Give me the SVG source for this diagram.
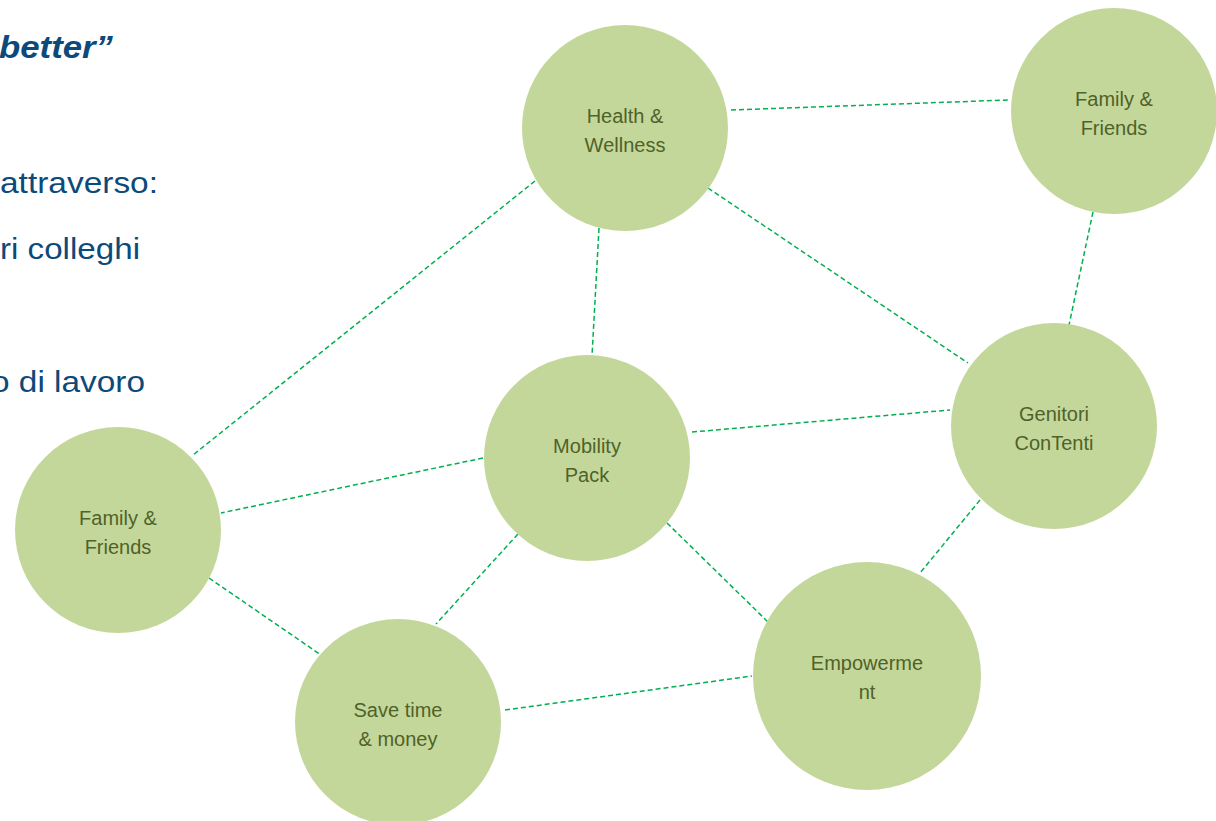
<svg xmlns="http://www.w3.org/2000/svg" width="1216" height="821" viewBox="0 0 1216 821">
<style>
.bg{fill:#ffffff}
.node circle{fill:#c4d79b}
.node text{font-family:"Liberation Sans","DejaVu Sans",sans-serif;font-size:20px;fill:#4f6228;text-anchor:middle}
.conn line{stroke:#00b050;stroke-width:1.5;stroke-dasharray:5 3;fill:none}
.side{font-family:"Liberation Sans","DejaVu Sans",sans-serif;font-size:29px;fill:#0b4a7a}
</style>
<rect class="bg" x="0" y="0" width="1216" height="821"/>
<g id="sidetext">
<text class="side" x="-1" y="58" textLength="114" lengthAdjust="spacingAndGlyphs" style="font-weight:bold;font-style:italic;font-size:32px">better”</text>
<text class="side" x="0" y="193" textLength="158" lengthAdjust="spacingAndGlyphs">attraverso:</text>
<text class="side" x="0" y="259" textLength="140" lengthAdjust="spacingAndGlyphs">ri colleghi</text>
<text class="side" x="-9" y="392" textLength="154" lengthAdjust="spacingAndGlyphs">o di lavoro</text>
</g>
<g id="connectors" class="conn">
<line x1="731" y1="110" x2="1008" y2="100"/>
<line x1="599" y1="228" x2="592" y2="356"/>
<line x1="708" y1="188" x2="968" y2="363"/>
<line x1="535" y1="181" x2="193" y2="455"/>
<line x1="1093" y1="212" x2="1069" y2="325"/>
<line x1="692" y1="432" x2="950" y2="410"/>
<line x1="483" y1="458" x2="221" y2="513"/>
<line x1="518" y1="534" x2="436" y2="624"/>
<line x1="667" y1="523" x2="768" y2="622"/>
<line x1="980" y1="500" x2="920" y2="573"/>
<line x1="209" y1="578" x2="321" y2="655"/>
<line x1="505" y1="710" x2="752" y2="676"/>
</g>
<g id="health" class="node"><circle cx="625" cy="128" r="103"/><text x="625" y="123">Health &amp;</text><text x="625" y="152">Wellness</text></g>
<g id="family-top" class="node"><circle cx="1114" cy="111" r="103"/><text x="1114" y="106">Family &amp;</text><text x="1114" y="135">Friends</text></g>
<g id="mobility" class="node"><circle cx="587" cy="458" r="103"/><text x="587" y="453">Mobility</text><text x="587" y="482">Pack</text></g>
<g id="genitori" class="node"><circle cx="1054" cy="426" r="103"/><text x="1054" y="421">Genitori</text><text x="1054" y="450">ConTenti</text></g>
<g id="family-left" class="node"><circle cx="118" cy="530" r="103"/><text x="118" y="525">Family &amp;</text><text x="118" y="554">Friends</text></g>
<g id="save" class="node"><circle cx="398" cy="722" r="103"/><text x="398" y="717">Save time</text><text x="398" y="746">&amp; money</text></g>
<g id="empowerment" class="node"><circle cx="867" cy="676" r="114"/><text x="867" y="670">Empowerme</text><text x="867" y="699">nt</text></g>
</svg>
